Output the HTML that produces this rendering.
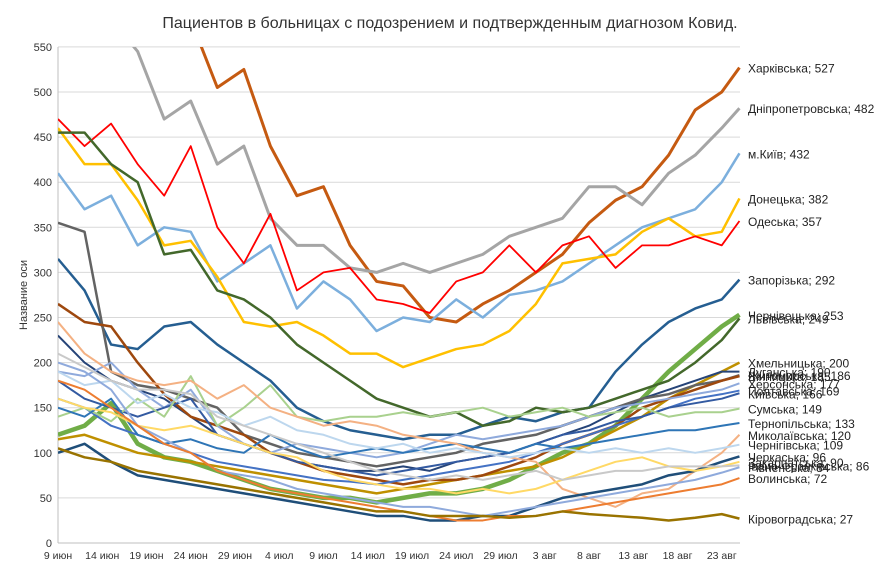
<!DOCTYPE html>
<html><head><meta charset="utf-8"><style>
body{margin:0;background:#fff;width:896px;height:570px;overflow:hidden;font-family:"Liberation Sans",sans-serif}
</style></head><body>
<svg id="chart" width="896" height="570" xmlns="http://www.w3.org/2000/svg" font-family="Liberation Sans, sans-serif">
<defs><clipPath id="plotclip"><rect x="58" y="47" width="700" height="496"/></clipPath></defs>
<text x="450" y="28" text-anchor="middle" font-size="16" fill="#333">Пациентов в больницах с подозрением и подтвержденным диагнозом Ковид.</text>
<text transform="translate(27,295) rotate(-90)" text-anchor="middle" font-size="11" fill="#333">Название оси</text>
<g id="grid"></g><g id="lines" clip-path="url(#plotclip)"></g><g id="labels"></g>
</svg>
<script>
const days=[0,3,6,9,12,15,18,21,24,27,30,33,36,39,42,45,48,51,54,57,60,63,66,69,72,75,77];
const yTicks=[0,50,100,150,200,250,300,350,400,450,500,550];
const xTickLabels=["9 июн","14 июн","19 июн","24 июн","29 июн","4 июл","9 июл","14 июл","19 июл","24 июл","29 июл","3 авг","8 авг","13 авг","18 авг","23 авг"];
const names=["Харківська","Дніпропетровська","м.Київ","Донецька","Одеська","Запорізька","Чернівецька","Львівська","Хмельницька","Луганська","Житомирська","Вінницька","Херсонська","Полтавська","Київська","Сумська","Тернопільська","Миколаївська","Чернігівська","Черкаська","Закарпатська","Івано-Франківська","Рівненська","Волинська","Кіровоградська"];
const colors=["#C55A11","#A5A5A5","#7CAFDD","#FFC000","#FF0000","#255E91","#70AD47","#43682B","#BF9000","#264478","#636363","#9E480E","#8FAADC","#4472C4","#335AA1","#A9D18E","#2E75B6","#F4B183","#BDD7EE","#1F4E79","#FFD966","#C9C9C9","#8FAADC","#ED7D31","#997300"];
const widths=[3,3,2.5,2.5,1.8,2.5,4.5,2.5,2.5,2,2.5,2.5,2,2,2,2,2,2,2,2.5,2,2,2,2,2.5];
const s0=[650,640,620,600,590,580,505,525,440,385,395,330,290,285,250,245,265,280,300,320,355,380,395,430,480,500,527];
const s1=[620,600,580,545,470,490,420,440,360,330,330,305,300,310,300,310,320,340,350,360,395,395,375,410,430,460,482];
const s2=[410,370,385,330,350,345,290,310,330,260,290,270,235,250,245,270,250,275,280,290,310,330,350,360,370,400,432];
const s3=[460,420,420,380,330,335,295,245,240,245,230,210,210,195,205,215,220,235,265,310,315,320,345,360,340,345,382];
const s4=[470,440,465,420,385,440,350,310,365,280,300,305,270,265,255,290,300,330,300,330,340,305,330,330,340,330,357];
const s5=[315,280,220,215,240,245,220,200,180,150,135,125,120,115,120,120,130,140,135,145,150,190,220,245,260,270,292];
const s6=[120,130,155,110,95,90,80,70,60,55,50,50,45,50,55,55,60,70,85,100,110,130,160,190,215,240,253];
const s7=[455,455,420,400,320,325,280,270,250,220,200,180,160,150,140,145,130,135,150,145,150,160,170,180,200,225,249];
const s8=[115,120,110,100,95,90,85,80,75,70,65,60,55,60,65,70,75,80,85,95,110,125,140,160,175,190,200];
const s9=[230,200,180,170,160,140,120,110,100,90,85,80,80,85,80,90,95,100,110,120,130,145,160,170,180,190,190];
const s10=[355,345,190,175,170,160,150,120,110,100,95,90,85,90,95,100,110,115,120,130,140,150,160,165,175,180,186];
const s11=[265,245,240,200,165,140,130,120,100,90,80,75,70,65,70,70,75,85,95,110,120,130,150,160,170,180,185];
const s12=[190,185,200,170,150,170,130,110,100,110,105,100,95,100,110,120,115,120,125,130,140,150,155,160,165,170,177];
const s13=[160,150,130,120,110,100,90,85,80,75,70,68,65,70,75,80,85,90,100,110,120,130,140,150,160,165,169];
const s14=[180,160,150,140,150,160,120,110,100,90,85,80,75,80,85,90,95,100,110,120,125,135,140,150,155,160,166];
const s15=[140,150,135,160,140,185,130,150,175,140,135,140,140,145,140,145,150,140,145,150,140,145,150,140,145,145,149];
const s16=[150,140,160,120,110,115,105,100,120,105,95,100,105,100,105,110,105,100,110,105,110,115,120,125,125,130,133];
const s17=[245,210,190,180,175,180,160,175,150,140,130,135,130,120,115,110,100,95,90,60,50,40,55,60,80,100,120];
const s18=[190,175,180,155,165,150,145,130,140,125,120,110,105,110,100,105,100,95,100,105,100,105,100,105,100,105,109];
const s19=[100,110,90,75,70,65,60,55,50,45,40,35,30,30,25,25,30,30,40,50,55,60,65,75,80,90,96];
const s20=[160,150,145,130,125,130,120,110,100,95,80,70,65,60,60,55,60,55,60,70,80,90,95,85,80,85,90];
const s21=[210,195,180,170,170,165,140,130,120,110,100,90,80,75,70,75,70,75,80,70,75,80,80,85,85,85,86];
const s22=[200,190,170,130,115,100,80,75,70,60,55,50,45,40,40,35,30,35,40,45,50,55,60,65,70,78,84];
const s23=[180,170,150,130,110,100,80,70,60,55,50,45,40,35,30,25,25,30,30,35,40,45,50,55,60,65,72];
const s24=[105,95,90,80,75,70,65,60,55,50,45,40,35,35,30,30,30,28,30,35,32,30,28,25,28,32,27];
const series=[s0,s1,s2,s3,s4,s5,s6,s7,s8,s9,s10,s11,s12,s13,s14,s15,s16,s17,s18,s19,s20,s21,s22,s23,s24];
const NS="http://www.w3.org/2000/svg";
const X0=58,DX=8.85,Y0=543,KY=0.902;
function xs(d){return X0+d*DX;}
function ys(v){return Y0-v*KY;}
const grid=document.getElementById('grid'),lines=document.getElementById('lines'),labels=document.getElementById('labels');
yTicks.forEach(t=>{
 const l=document.createElementNS(NS,'line');
 
 
 l.setAttribute('x1',t===0?58:58);l.setAttribute('x2',740);l.setAttribute('y1',ys(t));l.setAttribute('y2',ys(t));
 l.setAttribute('stroke',t===0?'#bfbfbf':'#d9d9d9');l.setAttribute('stroke-width',1);
 grid.appendChild(l);
 const tx=document.createElementNS(NS,'text');
 
 
 tx.setAttribute('x',52);tx.setAttribute('y',ys(t)+4);tx.setAttribute('text-anchor','end');tx.setAttribute('font-size','11');tx.setAttribute('fill','#333');
 tx.textContent=t;grid.appendChild(tx);
});
const ax=document.createElementNS(NS,'line');


ax.setAttribute('x1',58);ax.setAttribute('x2',58);ax.setAttribute('y1',47);ax.setAttribute('y2',543);ax.setAttribute('stroke','#bfbfbf');
grid.appendChild(ax);
xTickLabels.forEach((lab,i)=>{
 const tx=document.createElementNS(NS,'text');
 
 
 tx.setAttribute('x',xs(i*5));tx.setAttribute('y',559);tx.setAttribute('text-anchor','middle');tx.setAttribute('font-size','10.5');tx.setAttribute('fill','#333');
 tx.textContent=lab;grid.appendChild(tx);
});
series.forEach((s,i)=>{
 const p=document.createElementNS(NS,'polyline');
 
 
 p.setAttribute('points',s.map((v,j)=>xs(days[j])+','+ys(v)).join(' '));
 p.setAttribute('fill','none');p.setAttribute('stroke',colors[i]);p.setAttribute('stroke-width',widths[i]);p.setAttribute('stroke-linejoin','round');
 lines.appendChild(p);
 const last=s[s.length-1];
 const tx=document.createElementNS(NS,'text');
 
 
 tx.setAttribute('x',748);tx.setAttribute('y',ys(last)+5);tx.setAttribute('font-size','12');tx.setAttribute('fill','#222');
 tx.textContent=names[i]+'; '+last;labels.appendChild(tx);
});
</script>
</body></html>
